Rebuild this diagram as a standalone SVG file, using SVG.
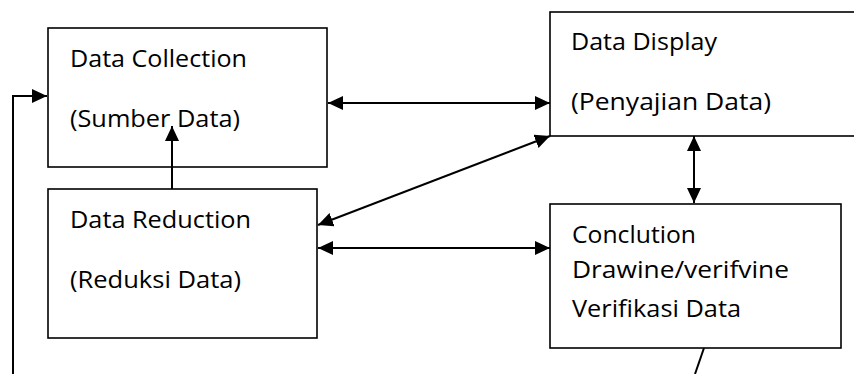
<svg xmlns="http://www.w3.org/2000/svg" width="854" height="374" viewBox="0 0 854 374">
<style>
.box{fill:#fff;stroke:#000;stroke-width:1.6}
.t{font-family:"Open Sans","Liberation Sans",sans-serif;font-size:24px;fill:#000}
.c{fill:none;stroke:#000;stroke-width:2}
</style>
<defs>
<marker id="ah" markerUnits="userSpaceOnUse" markerWidth="16" markerHeight="14" refX="15" refY="7" orient="auto-start-reverse">
<path d="M0,0 L15,7 L0,14 Z" fill="#000"/>
</marker>
</defs>
<rect width="854" height="374" fill="#fff"/>
<g id="n-collection">
<rect class="box" x="48" y="28" width="279" height="139"/>
<text class="t" x="70" y="67" textLength="177" lengthAdjust="spacingAndGlyphs">Data Collection</text>
<text class="t" x="70" y="127" textLength="170" lengthAdjust="spacingAndGlyphs">(Sumber Data)</text>
</g>
<g id="n-reduction">
<rect class="box" x="48" y="189" width="269" height="149"/>
<text class="t" x="70" y="228" textLength="181" lengthAdjust="spacingAndGlyphs">Data Reduction</text>
<text class="t" x="70" y="288" textLength="171" lengthAdjust="spacingAndGlyphs">(Reduksi Data)</text>
</g>
<g id="n-display">
<rect class="box" x="550" y="12" width="308" height="124"/>
<text class="t" x="571" y="50" textLength="146" lengthAdjust="spacingAndGlyphs">Data Display</text>
<text class="t" x="571" y="110" textLength="200" lengthAdjust="spacingAndGlyphs">(Penyajian Data)</text>
</g>
<g id="n-conclusion">
<rect class="box" x="550" y="204" width="291" height="144"/>
<text class="t" x="572" y="243" textLength="124" lengthAdjust="spacingAndGlyphs">Conclution</text>
<text class="t" x="572" y="278" textLength="217" lengthAdjust="spacingAndGlyphs">Drawine/verifvine</text>
<text class="t" x="572" y="317" textLength="169" lengthAdjust="spacingAndGlyphs">Verifikasi Data</text>
</g>
<g id="connectors">
<line class="c" x1="328" y1="103" x2="550" y2="103" marker-start="url(#ah)" marker-end="url(#ah)"/>
<line class="c" x1="318" y1="225" x2="550" y2="136" marker-start="url(#ah)" marker-end="url(#ah)"/>
<line class="c" x1="318" y1="248" x2="550" y2="248" marker-start="url(#ah)" marker-end="url(#ah)"/>
<line class="c" x1="694" y1="136" x2="694" y2="203" marker-start="url(#ah)" marker-end="url(#ah)"/>
<line class="c" x1="172" y1="189" x2="172" y2="126" marker-end="url(#ah)"/>
<polyline class="c" points="13,374 13,96 47,96" marker-end="url(#ah)"/>
<line class="c" x1="704" y1="348" x2="695" y2="374"/>
</g>
</svg>
